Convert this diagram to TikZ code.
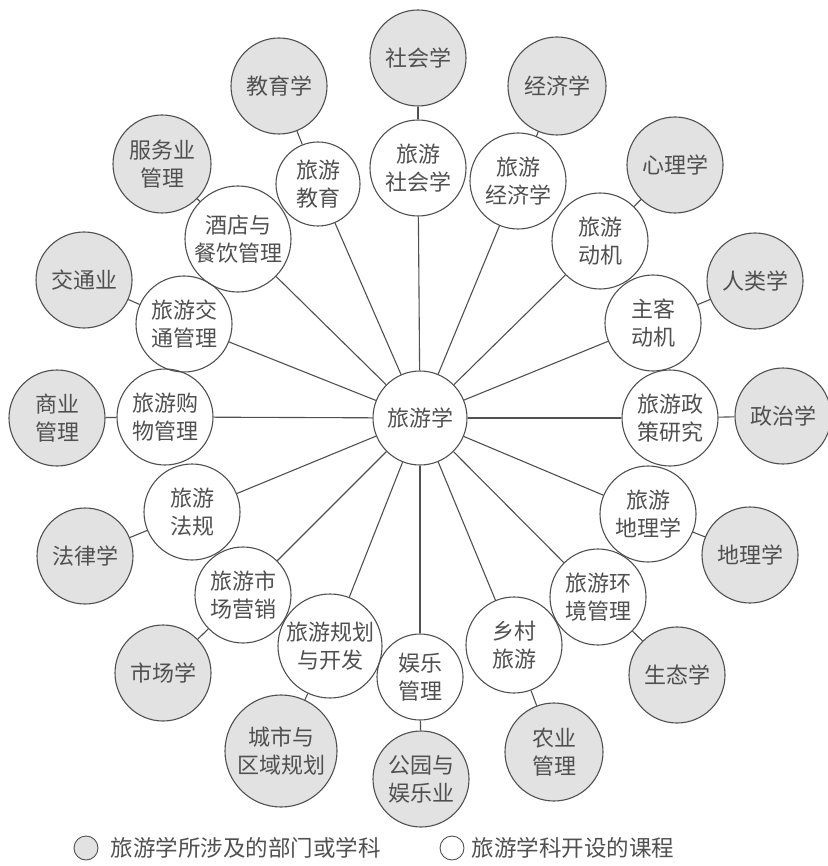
\documentclass[tikz,border=0pt]{standalone}
\usepackage{fontspec}
\setmainfont{Noto Sans CJK SC}
\usepackage{tikz}
\definecolor{inkgray}{HTML}{505050}
\definecolor{subjgray}{HTML}{E2E2E2}

\begin{document}
\begin{tikzpicture}[x=1pt, y=-1pt, every node/.style={font=\fontsize{22}{28}\selectfont, text=inkgray, align=center},
	course/.style={circle, draw=inkgray, line width=1.1pt, inner sep=0pt},
	subject/.style={circle, draw=inkgray, fill=subjgray, line width=1.1pt, inner sep=0pt},
	link/.style={draw=inkgray, line width=1.1pt}]
	\useasboundingbox (0,0) rectangle (827,866);
	\node[course, minimum size=94pt] (hub) at (420,418) {旅游学};
	% courses (inner ring)
	\foreach \n/\x/\y/\r/\t in {ed/318/184/84/{旅游\\教育}, hotel/238/239/106/{酒店与\\餐饮管理}, trans/184/324/96/{旅游交\\通管理},
		shop/165/417/96/{旅游购\\物管理}, law/192/512/96/{旅游\\法规}, mkt/243/595/96/{旅游市\\场营销},
		plan/330/646/104/{旅游规划\\与开发}, ent/420/677/86/{娱乐\\管理}, rural/514/645/96/{乡村\\旅游},
		env/598/597/96/{旅游环\\境管理}, geo/648/514/96/{旅游\\地理学}, pol/670/418/96/{旅游政\\策研究},
		host/653/323/96/{主客\\动机}, mot/600/241/96/{旅游\\动机}, eco/518/181/96/{旅游\\经济学},
		soc/418/168/96/{旅游\\社会学}} {
		\node[course, minimum size=\r pt] (\n) at (\x,\y) {\t};
	}
	% subjects (outer ring)
	\foreach \n/\x/\y/\r/\t in {edS/279/86/96/{教育学}, hotelS/162/164/98/{服务业\\管理}, transS/84/280/96/{交通业},
		shopS/57/418/96/{商业\\管理}, lawS/85/556/96/{法律学}, mktS/163/673/96/{市场学},
		planS/281/751/112/{城市与\\区域规划}, entS/421/779/96/{公园与\\娱乐业}, ruralS/554/752/98/{农业\\管理},
		envS/677/675/96/{生态学}, geoS/750/555/96/{地理学}, polS/783/416/96/{政治学},
		hostS/755/281/96/{人类学}, motS/675/165/96/{心理学}, ecoS/557/86/98/{经济学},
		socS/418/58/96/{社会学}} {
		\node[subject, minimum size=\r pt] (\n) at (\x,\y) {\t};
	}
	\foreach \n in {ed,hotel,trans,shop,law,mkt,plan,ent,rural,env,geo,pol,host,mot,eco,soc} {
		\draw[link] (hub) -- (\n);
		\draw[link] (\n) -- (\n S);
	}
	% legend
	\node[subject, minimum size=24pt, line width=0.9pt] (keyS) at (86,848) {};
	\node[anchor=west, font=\fontsize{22.5}{28}\selectfont] (keyStext) at (107,848) {旅游学所涉及的部门或学科};
	\node[course, minimum size=24pt, line width=0.9pt] (keyC) at (452,848) {};
	\node[anchor=west, font=\fontsize{22.5}{28}\selectfont] (keyCtext) at (468,848) {旅游学科开设的课程};
\end{tikzpicture}
\end{document}
